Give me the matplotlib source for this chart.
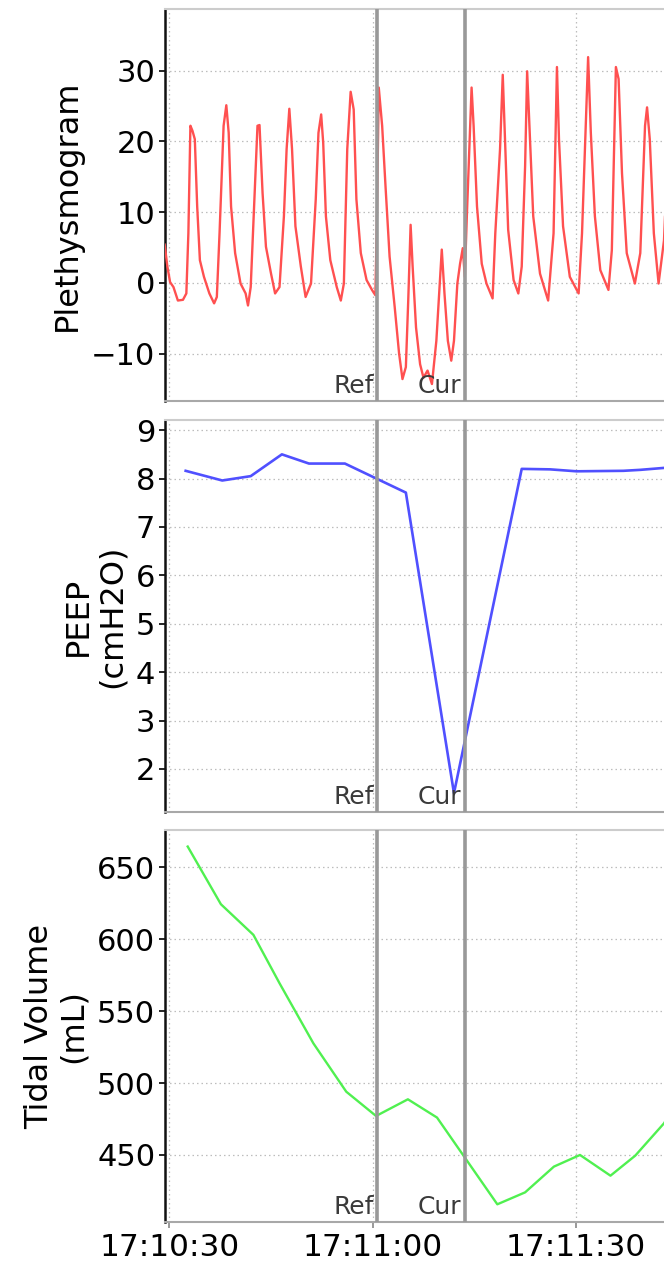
import numpy as np
import matplotlib.pyplot as plt
import matplotlib.transforms as mtransforms

# time axis in seconds after 17:10:00
ref_t, cur_t = 60.7, 73.6
xtick_pos = [30, 60, 90]
xtick_lbl = ['17:10:30', '17:11:00', '17:11:30']

# Plethysmogram trace
pleth_t = [29.3, 29.7, 30.1, 30.6, 31.25, 32.0, 32.5, 32.8, 33.1, 33.4, 33.75,
           34.1, 34.5, 35.1, 35.9, 36.6, 37.0, 37.4, 38.0, 38.4, 38.75, 39.1,
           39.7, 40.5, 41.25, 41.6, 42.0, 42.5, 43.0, 43.3, 43.75, 44.25, 45.0,
           45.6, 46.25, 46.9, 47.3, 47.7, 48.1, 48.6, 49.4, 50.1, 50.9, 51.6,
           52.0, 52.4, 52.7, 53.1, 53.75, 54.7, 55.3, 55.75, 56.25, 56.75, 57.2,
           57.6, 58.25, 59.1, 59.9, 60.4, 60.6, 60.9, 61.4, 61.9, 62.5, 63.25,
           63.9, 64.4, 64.9, 65.25, 65.6, 65.9, 66.4, 67.0, 67.5, 68.1, 68.75,
           69.4, 69.9, 70.2, 70.6, 71.1, 71.6, 72.0, 72.5, 72.9, 73.3, 73.6,
           73.9, 74.6, 74.9, 75.4, 76.1, 76.8, 77.7, 78.1, 78.8, 79.2, 79.5,
           80.0, 80.8, 81.5, 82.0, 82.5, 82.8, 83.1, 83.7, 84.7, 85.9, 86.7,
           87.2, 87.5, 88.1, 89.1, 90.4, 90.9, 91.5, 91.8, 92.2, 92.8, 93.6,
           94.8, 95.3, 95.9, 96.3, 96.8, 97.5, 98.7, 99.5, 100.2, 100.5, 100.9,
           101.5, 102.2, 103.0, 103.8]
pleth_v = [5.4, 2.3, 0.1, -0.6, -2.5, -2.4, -1.5, 7.0, 22.2, 21.5, 20.3,
           10.8, 3.2, 0.85, -1.5, -2.9, -2.0, 7.0, 22.2, 25.1, 21.2, 10.8,
           4.2, -0.1, -1.5, -3.2, -0.6, 10.8, 22.2, 22.3, 12.7, 5.1, 1.3,
           -1.5, -0.6, 9.4, 18.9, 24.6, 18.9, 8.0, 2.3, -2.0, -0.1, 11.8,
           21.2, 23.8, 19.8, 9.4, 3.2, -0.6, -2.5, -0.1, 18.9, 27.0, 24.5,
           11.8, 4.2, 0.4, -1.0, -1.75, 7.5, 27.6, 22.2, 13.6, 3.7, -3.4,
           -10.0, -13.6, -11.9, -2.5, 8.2, 2.3, -6.3, -11.5, -13.4, -12.4, -14.3,
           -8.2, -0.1, 4.7, -1.5, -8.2, -11.0, -8.2, -0.1, 2.7, 4.9, 0.85,
           9.4, 27.6, 22.2, 10.8, 2.7, -0.1, -2.2, 7.0, 18.9, 29.4, 21.2,
           7.5, 0.4, -1.5, 2.3, 16.5, 29.9, 23.1, 9.4, 1.3, -2.5, 7.0,
           30.5, 20.3, 8.0, 0.85, -1.5, 7.0, 23.6, 31.9, 21.2, 9.4, 1.8,
           -1.0, 4.6, 30.5, 28.8, 15.5, 4.2, -0.1, 4.2, 22.2, 24.8, 20.3,
           7.0, -0.1, 6.0, 24.0]

# PEEP (cmH2O)
peep_t = [32.4, 37.8, 42.0, 46.6, 50.6, 55.9, 64.9, 72.0, 82.0, 86.2,
          90.1, 97.0, 99.5, 103.0, 106.0]
peep_v = [8.16, 7.96, 8.05, 8.50, 8.31, 8.31, 7.71, 1.50, 8.20, 8.19,
          8.15, 8.16, 8.18, 8.22, 8.25]

# Tidal volume (mL)
tv_t = [32.7, 37.6, 42.4, 46.25, 51.25, 56.1, 60.5, 65.2, 69.5, 78.4,
        82.5, 86.75, 90.6, 95.1, 98.75, 103.0, 106.0]
tv_v = [664.4, 624.3, 603.0, 569.4, 527.6, 494.0, 477.1, 488.7, 476.0, 415.7,
        424.0, 441.9, 450.0, 435.6, 449.5, 472.0, 495.0]

plt.rcParams['font.family'] = 'DejaVu Sans'
fig = plt.figure(figsize=(6.64, 12.64), dpi=100)

# axes run right up to the figure's right edge
xlim = (29.35, 103.0)
left = 165/664
width = 1.0 - left

panels = [
    (pleth_t, pleth_v, '#ff5050', 1.7, 'Plethysmogram', (-16.7, 38.7),
     [-10, 0, 10, 20, 30], 1 - 401/1264),
    (peep_t, peep_v, '#5050ff', 1.9, 'PEEP\n(cmH2O)', (1.11, 9.21),
     [2, 3, 4, 5, 6, 7, 8, 9], 1 - 812/1264),
    (tv_t, tv_v, '#50f050', 1.7, 'Tidal Volume\n(mL)', (403.4, 675.9),
     [450, 500, 550, 600, 650], 1 - 1222/1264),
]

for i, (tx, vy, col, lw, lab, yl, yt, bot) in enumerate(panels):
    ax = fig.add_axes([left, bot, width, 392/1264])
    ax.plot(tx, vy, color=col, lw=lw, zorder=3)
    ax.set_xlim(*xlim)
    ax.set_ylim(*yl)
    ax.set_yticks(yt)
    ax.set_xticks(xtick_pos)
    ax.grid(True, color='#bdbdbd', ls=(0, (1.2, 2.4)), lw=0.9)
    ax.set_axisbelow(True)
    ax.spines['right'].set_visible(False)
    ax.spines['top'].set_color('#cccccc')
    ax.spines['top'].set_linewidth(1.5)
    ax.spines['bottom'].set_color('#a8a8a8')
    ax.spines['bottom'].set_linewidth(1.5)
    ax.spines['left'].set_color('#111111')
    ax.spines['left'].set_linewidth(1.8)
    ax.tick_params(axis='y', labelsize=22, length=4, width=1.2, pad=3)
    if i < 2:
        ax.tick_params(axis='x', length=0, labelbottom=False)
    else:
        ax.set_xticklabels(xtick_lbl)
        ax.tick_params(axis='x', labelsize=22.5, length=4, width=1.2,
                       color='#888888', pad=4)
    ax.set_ylabel(lab, fontsize=23, labelpad=6, linespacing=1.1)

    for tpos, name in [(ref_t, 'Ref'), (cur_t, 'Cur')]:
        ax.axvline(tpos, color='#999999', lw=2.6, zorder=4)
        trans = mtransforms.blended_transform_factory(ax.transData, ax.transAxes)
        ax.text(tpos - 0.55, 0.008, name, transform=trans, ha='right',
                va='bottom', fontsize=18, color='#3a3a3a', zorder=5)

fig.savefig('out.png', dpi=100)
